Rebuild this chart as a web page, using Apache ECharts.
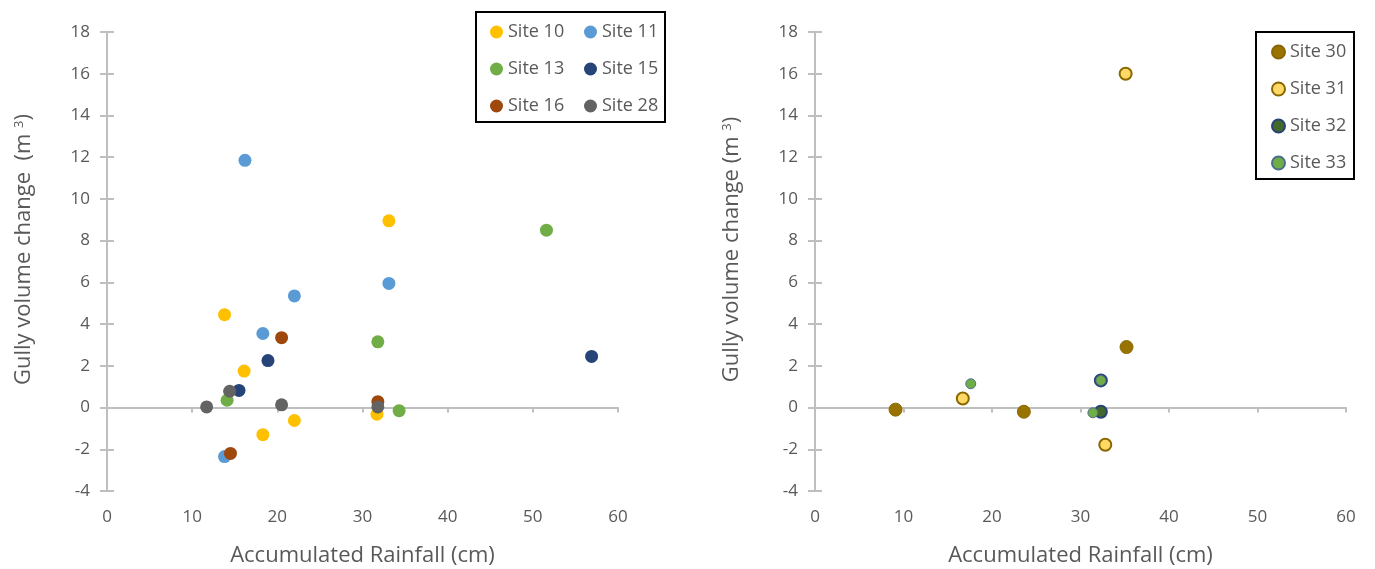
<!DOCTYPE html>
<html>
<head>
<meta charset="utf-8">
<script src="https://cdn.jsdelivr.net/npm/echarts@6/dist/echarts.min.js"></script>
<style>html,body{margin:0;padding:0;background:#fff;}#c{width:1375px;height:569px;}</style>
</head>
<body>
<div id="c"></div>
<script>
// Left panel data: [Accumulated Rainfall (cm), Gully volume change (m3)]
const site10 = [[13.8, 4.45], [16.1, 1.75], [18.3, -1.3], [22.0, -0.62], [31.7, -0.32], [33.1, 8.95]];
const site11 = [[16.2, 11.85], [22.0, 5.35], [18.3, 3.55], [13.8, -2.35], [33.1, 5.95]];
const site13 = [[14.1, 0.35], [31.8, 3.15], [34.3, -0.15], [51.6, 8.5]];
const site15 = [[15.5, 0.82], [18.9, 2.25], [56.9, 2.45]];
const site16 = [[14.5, -2.2], [20.5, 3.35], [31.8, 0.28]];
const site28 = [[11.7, 0.03], [14.4, 0.78], [20.5, 0.13], [31.8, 0.03]];
// Right panel data
const site30 = [[9.1, -0.1], [23.6, -0.2], [35.2, 2.9]];
const site31 = [[16.7, 0.43], [32.8, -1.78], [35.1, 16.0]];
const site32 = [[32.3, 1.3], [32.3, -0.2]];
const site33 = [[17.6, 1.14], [31.4, -0.25], [32.3, 1.3]];

const xTitle = 'Accumulated Rainfall (cm)';
const leftYTitle = '{a|Gully volume change  (m }{s|3}{a|)}';
const rightYTitle = '{a|Gully volume change (m }{s|3}{a|)}';

const FONT = 'Open Sans';
const GREY = '#595959';
const AXIS = '#BFBFBF';

function zeroX(grid) {
  return {
    gridIndex: grid, type: 'value', min: 0, max: 60, interval: 10, position: 'top',
    axisLine: {show: true, onZero: true, lineStyle: {color: AXIS, width: 2}},
    axisTick: {show: true, inside: true, length: 5, lineStyle: {color: AXIS, width: 2}},
    axisLabel: {show: false}, splitLine: {show: false}
  };
}
function labelX(grid) {
  return {
    gridIndex: grid, type: 'value', min: 0, max: 60, interval: 10, position: 'bottom',
    axisLine: {show: false, onZero: false}, axisTick: {show: false},
    axisLabel: {color: GREY, fontSize: 17, fontFamily: FONT, margin: 18},
    splitLine: {show: false},
    name: xTitle, nameLocation: 'middle', nameGap: 54,
    nameTextStyle: {color: GREY, fontSize: 22, fontFamily: FONT}
  };
}
function mainY(grid, title) {
  return {
    gridIndex: grid, type: 'value', min: -4, max: 18, interval: 2, position: 'left',
    axisLine: {show: true, onZero: false, lineStyle: {color: AXIS, width: 2}},
    axisTick: {show: true, length: 7, lineStyle: {color: AXIS, width: 2}},
    axisLabel: {color: GREY, fontSize: 17, fontFamily: FONT, margin: 17},
    splitLine: {show: false},
    name: title, nameLocation: 'middle', nameGap: 72,
    nameTextStyle: {
      padding: [0, 0, 0, 24],
      rich: {
        a: {fontSize: 22, color: GREY, fontFamily: FONT},
        s: {fontSize: 13, color: GREY, fontFamily: FONT, verticalAlign: 'top'}
      }
    }
  };
}
function innerY(grid) {
  return {
    gridIndex: grid, type: 'value', min: -4, max: 18, interval: 2, position: 'right',
    axisLine: {show: true, onZero: true, lineStyle: {color: AXIS, width: 2}},
    axisTick: {show: true, length: 7, lineStyle: {color: AXIS, width: 2}},
    axisLabel: {show: false}, splitLine: {show: false}
  };
}
function sc(name, data, xi, yi, color, size, border, bw) {
  return {
    name: name, type: 'scatter', xAxisIndex: xi, yAxisIndex: yi, data: data,
    symbol: 'circle', symbolSize: size,
    itemStyle: {color: color, opacity: 1, borderColor: border || color, borderWidth: bw || 0},
    emphasis: {disabled: true}
  };
}

const chart = echarts.init(document.getElementById('c'), null, {renderer: 'canvas'});
const legendText = {color: GREY, fontSize: 18, fontFamily: FONT};
chart.setOption({
  animation: false,
  textStyle: {fontFamily: FONT},
  grid: [
    {left: 107, top: 32, width: 511, height: 459, outerBoundsMode: 'none', containLabel: false},
    {left: 815, top: 32, width: 531, height: 459, outerBoundsMode: 'none', containLabel: false}
  ],
  xAxis: [zeroX(0), labelX(0), zeroX(1), labelX(1)],
  yAxis: [mainY(0, leftYTitle), innerY(0), mainY(1, rightYTitle), innerY(1)],
  legend: [
    {data: ['Site 10', 'Site 13', 'Site 16'], orient: 'vertical', left: 485, top: 18, itemGap: 19,
     itemWidth: 13, itemHeight: 13, icon: 'circle', textStyle: legendText, selectedMode: false},
    {data: ['Site 11', 'Site 15', 'Site 28'], orient: 'vertical', left: 579, top: 18, itemGap: 19,
     itemWidth: 13, itemHeight: 13, icon: 'circle', textStyle: legendText, selectedMode: false},
    {data: ['Site 30', 'Site 31', 'Site 32', 'Site 33'], orient: 'vertical', left: 1266, top: 38, itemGap: 19,
     itemWidth: 13, itemHeight: 13, icon: 'circle', textStyle: legendText, selectedMode: false}
  ],
  graphic: [
    {type: 'rect', shape: {x: 476, y: 12, width: 189, height: 110}, style: {fill: 'none', stroke: '#000', lineWidth: 2}, z: 100},
    {type: 'rect', shape: {x: 1256, y: 32, width: 98, height: 147}, style: {fill: 'none', stroke: '#000', lineWidth: 2}, z: 100}
  ],
  series: [
    sc('Site 10', site10, 0, 0, '#FFC000', 13),
    sc('Site 11', site11, 0, 0, '#5B9BD5', 13),
    sc('Site 13', site13, 0, 0, '#70AD47', 13),
    sc('Site 15', site15, 0, 0, '#264478', 13),
    sc('Site 16', site16, 0, 0, '#9E480E', 13),
    sc('Site 28', site28, 0, 0, '#636363', 13),
    sc('Site 30', site30, 2, 2, '#997300', 13, '#8A6800', 1),
    sc('Site 31', site31, 2, 2, '#FFD966', 12, '#8A6800', 2),
    sc('Site 32', site32, 2, 2, '#43682B', 12, '#264478', 2),
    sc('Site 33', site33, 2, 2, '#70AD47', 10, '#4A6E8F', 1)
  ]
});
</script>
</body>
</html>
